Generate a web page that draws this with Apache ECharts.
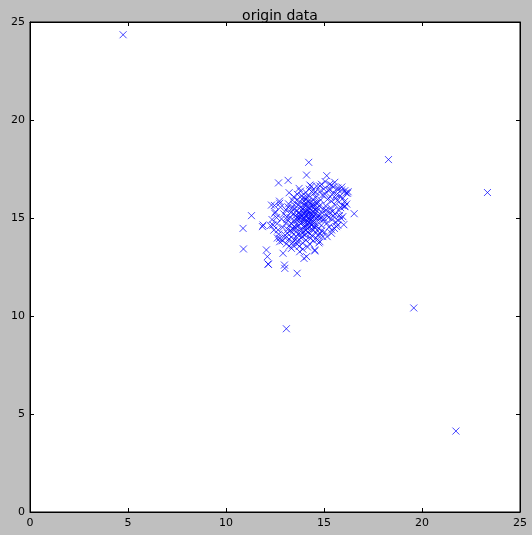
<!DOCTYPE html>
<html>
<head>
<meta charset="utf-8">
<script src="https://cdn.jsdelivr.net/npm/echarts@6/dist/echarts.min.js"></script>
<style>
html,body{margin:0;padding:0;background:#bfbfbf;}
#c{width:532px;height:535px;}
</style>
</head>
<body>
<div id="c"></div>
<script>
var titleText = 'origin data';
var xTicks = [0, 5, 10, 15, 20, 25];
var yTicks = [0, 5, 10, 15, 20, 25];

var outlierPoints = [
  [4.75, 24.35], [18.29, 17.98], [23.34, 16.30], [19.58, 10.41], [21.73, 4.13], [13.08, 9.35]
];

var edgePoints = [
  [12.68,16.79],[13.17,16.92],[14.11,17.19],[15.14,17.16],[14.22,17.84],[11.3,15.12],[10.87,14.47],[10.89,13.42],
  [11.86,14.56],[12.06,13.37],[12.11,13.03],[12.16,12.64],[12.91,13.2],[12.98,12.6],[13.0,12.43],[13.63,12.18],
  [16.54,15.22],[16.01,14.66],[14.53,13.37],[13.98,12.94],
  [15.55,16.82],[16.06,15.58],[16.23,16.34],[15.9,16.43],[15.38,16.68],[14.53,13.32],
  [16.06,16.39],[16.2,16.26],[16.06,15.61],[14.28,16.68],[14.79,16.63],[15.3,16.46],[15.7,16.53],[15.96,15.07],[15.7,14.9],
  [13.22,16.29],[13.73,16.51],[12.32,15.66],[12.74,15.75],[12.49,15.24],[11.89,14.64],
  [12.4,14.64],[12.74,13.96],[12.74,13.79],[12.15,12.65],[13.76,13.28],[13.34,13.45],[12.66,14.39],
  [15.38,14.22],[14.79,13.79],[14.11,13.03],[15.64,14.56]
];

var corePoints = [
  [12.35,14.92],[12.52,15.31],[12.61,14.71],[12.44,14.38],[12.78,15.55],[12.69,14.18],[12.83,14.95],[12.58,15.02],
  [12.27,14.61],[12.73,15.86],[12.9,14.52],[12.47,15.64],[12.88,13.84],[12.62,13.98],[12.95,15.21],
  [13.05,14.74],[13.41,13.76],[13.12,15.05],[13.28,14.36],[13.36,15.48],[13.02,14.12],[13.47,14.88],[13.19,15.72],
  [13.33,14.02],[13.08,13.68],[13.44,15.21],[13.25,14.63],[13.39,15.91],[13.15,14.41],[13.49,14.55],[13.21,13.92],
  [13.3,15.29],[13.06,15.41],[13.42,13.61],[13.38,14.27],[13.11,14.92],[13.46,16.08],[13.27,15.02],[13.03,13.98],
  [13.35,14.71],[13.17,15.56],[13.48,15.67],[13.23,13.57],[13.4,14.44],[13.13,14.23],
  [13.58,14.04],[13.92,13.41],[13.55,15.12],[13.71,14.62],[13.86,15.38],[13.62,14.89],[13.98,14.55],[13.77,15.84],
  [13.66,13.82],[13.89,14.21],[13.52,15.48],[13.81,15.02],[13.94,16.02],[13.6,14.33],[13.74,13.55],[13.85,14.78],
  [13.68,15.66],[13.97,15.22],[13.57,14.66],[13.79,14.41],[13.91,13.72],[13.64,16.21],[13.83,15.58],[13.53,13.89],
  [13.72,15.28],[13.96,14.97],[13.61,15.91],[13.88,14.06],[13.75,14.95],[13.99,15.69],[13.54,14.51],[13.8,16.37],
  [13.67,14.18],[13.93,15.46],[13.59,15.35],[13.84,13.98],[13.7,15.07],[13.95,14.33],[13.63,13.67],[13.87,16.14],
  [14.2,15.85],[14.06,14.55],[14.17,14.47],[14.34,15.12],[14.02,15.31],[14.45,14.83],[14.11,16.08],[14.28,14.19],
  [14.39,15.57],[14.08,13.87],[14.22,15.01],[14.47,16.25],[14.14,14.72],[14.31,13.96],[14.04,15.63],[14.42,15.34],
  [14.25,16.47],[14.19,14.28],[14.36,14.62],[14.01,14.97],[14.48,15.08],[14.12,15.42],[14.27,13.68],[14.41,14.41],
  [14.07,16.31],[14.33,15.79],[14.16,13.52],[14.44,15.95],[14.23,14.91],[14.38,14.11],[14.05,14.36],[14.29,15.23],
  [14.46,13.84],[14.13,15.18],[14.35,16.62],[14.09,15.74],[14.4,14.99],[14.21,16.12],[14.49,14.58],[14.03,14.14],
  [14.26,15.48],[14.37,15.66],[14.15,14.86],[14.43,16.41],[14.3,14.74],
  [14.92,16.17],[14.56,15.21],[14.73,14.46],[14.61,15.77],[14.85,15.03],[14.68,14.12],[14.97,15.45],[14.53,14.77],
  [14.79,16.35],[14.64,15.36],[14.88,14.35],[14.58,16.04],[14.76,15.61],[14.95,14.88],[14.66,13.91],[14.83,15.92],
  [14.55,14.48],[14.71,15.14],[14.99,16.48],[14.62,16.63],[14.86,14.62],[14.74,13.73],[14.51,15.59],[14.9,15.27],
  [14.69,15.03],[14.81,14.2],[14.57,16.33],[14.94,14.05],[14.67,15.51],[14.87,16.72],[14.6,14.25],[14.78,14.94],
  [15.08,15.62],[15.32,16.08],[15.15,14.73],[15.44,15.34],[15.21,16.41],[15.03,14.28],[15.37,15.86],[15.12,15.19],
  [15.48,16.58],[15.26,14.55],[15.05,16.21],[15.41,14.92],[15.18,15.95],[15.34,15.51],[15.01,14.97],[15.29,16.72],
  [15.46,15.09],[15.1,15.41],[15.39,14.39],[15.23,15.02],[15.47,16.27],[15.06,16.86],[15.31,15.28],[15.16,14.05],
  [15.68,15.89],[15.55,15.21],[15.82,16.12],[15.61,14.78],[15.93,15.64],[15.72,16.44],[15.58,15.66],[15.88,14.98],
  [16.05,15.84],[15.77,15.38],[15.64,16.2],[15.97,16.01],[15.53,14.47],[16.12,16.28],[15.85,15.53],[15.7,14.63],
  [16.16,15.71],[15.91,16.58],[15.6,16.01],[15.79,15.13],
  [14.05,15.12],[14.18,15.58],[13.9,15.15],[14.32,14.88],[14.55,15.42],[13.82,14.7],[14.12,14.62],[14.62,14.98],
  [13.98,15.86],[14.27,15.31],[14.48,15.74],[14.02,14.83],[13.76,15.2],[14.4,15.2],[14.15,15.3],[14.7,15.8],
  [13.65,15.0],[14.25,14.55],[14.58,14.6],[14.08,15.95]
];

var clusterPoints = corePoints.concat(edgePoints);

var chart = echarts.init(document.getElementById('c'), null, {renderer: 'canvas'});
var font = 'DejaVu Sans';
var markColor = 'rgba(0,0,255,0.72)';
function axisCommon(extra) {
  var a = {
    min: 0, max: 25, interval: 5,
    axisLine: {show: true, onZero: false, lineStyle: {color: '#000', width: 1}},
    axisTick: {show: true, inside: true, length: 4, lineStyle: {color: '#000'}},
    splitLine: {show: false},
    axisLabel: {show: false}
  };
  for (var k in extra) a[k] = extra[k];
  return a;
}
function scatterSeries(pts) {
  return {
    type: 'scatter',
    xAxisIndex: 0, yAxisIndex: 0,
    data: pts,
    symbol: 'path://M0,0L10,10M10,0L0,10',
    symbolSize: 7,
    silent: true,
    emphasis: {disabled: true},
    itemStyle: {color: markColor, borderColor: markColor, borderWidth: 1, opacity: 1}
  };
}
chart.setOption({
  animation: false,
  backgroundColor: '#bfbfbf',
  title: {
    text: titleText, left: 275, top: 4, textAlign: 'center',
    textStyle: {color: '#000', fontSize: 14, fontWeight: 'normal', fontFamily: font}
  },
  grid: {left: 30, right: 12, top: 22, bottom: 23, show: true, backgroundColor: '#fff', borderColor: '#000', borderWidth: 1, containLabel: false},
  xAxis: [
    axisCommon({type: 'value', position: 'bottom',
      axisLabel: {show: true, color: '#000', fontSize: 11, fontFamily: font, margin: 6,
        showMinLabel: true, showMaxLabel: true,
        formatter: function (v) { return xTicks.indexOf(v) >= 0 ? String(v) : ''; }}}),
    axisCommon({type: 'value', position: 'top'})
  ],
  yAxis: [
    axisCommon({type: 'value', position: 'left',
      axisLabel: {show: true, color: '#000', fontSize: 11, fontFamily: font, margin: 5,
        showMinLabel: true, showMaxLabel: true,
        formatter: function (v) { return yTicks.indexOf(v) >= 0 ? String(v) : ''; }}}),
    axisCommon({type: 'value', position: 'right'})
  ],
  series: [scatterSeries(clusterPoints), scatterSeries(outlierPoints)]
});
</script>
</body>
</html>
